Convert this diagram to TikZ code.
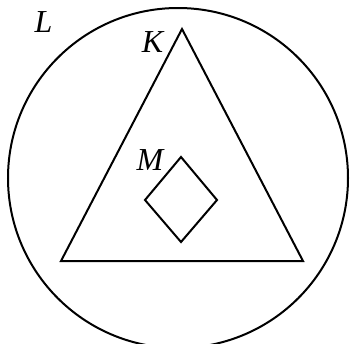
\documentclass[tikz,border=0pt]{standalone}
\usepackage{fontspec}
\setmainfont{Liberation Serif}
\usepackage{tikz}

\begin{document}
\begin{tikzpicture}[
  x=1pt, y=-1pt,
  line width=2pt, line join=miter,
  lbl/.style={font=\fontsize{32}{32}\selectfont\itshape, inner sep=0pt, anchor=base},
]
\useasboundingbox (0,0) rectangle (351,343);
\clip (0,0) rectangle (351,343);
% outer set
\draw (178,178) circle[radius=170];
% triangle
\coordinate (K1) at (182,29);
\coordinate (K2) at (61,261);
\coordinate (K3) at (303,261);
\draw (K1) -- (K2) -- (K3) -- cycle;
% diamond
\coordinate (M1) at (181,157);
\coordinate (M2) at (145,200);
\coordinate (M3) at (181,242);
\coordinate (M4) at (217,200);
\draw (M1) -- (M2) -- (M3) -- (M4) -- cycle;
% labels
\node[lbl] (L) at (43.5,32) {L};
\node[lbl] (K) at (152.5,52) {K};
\node[lbl] (M) at (150,170) {M};
\end{tikzpicture}
\end{document}
